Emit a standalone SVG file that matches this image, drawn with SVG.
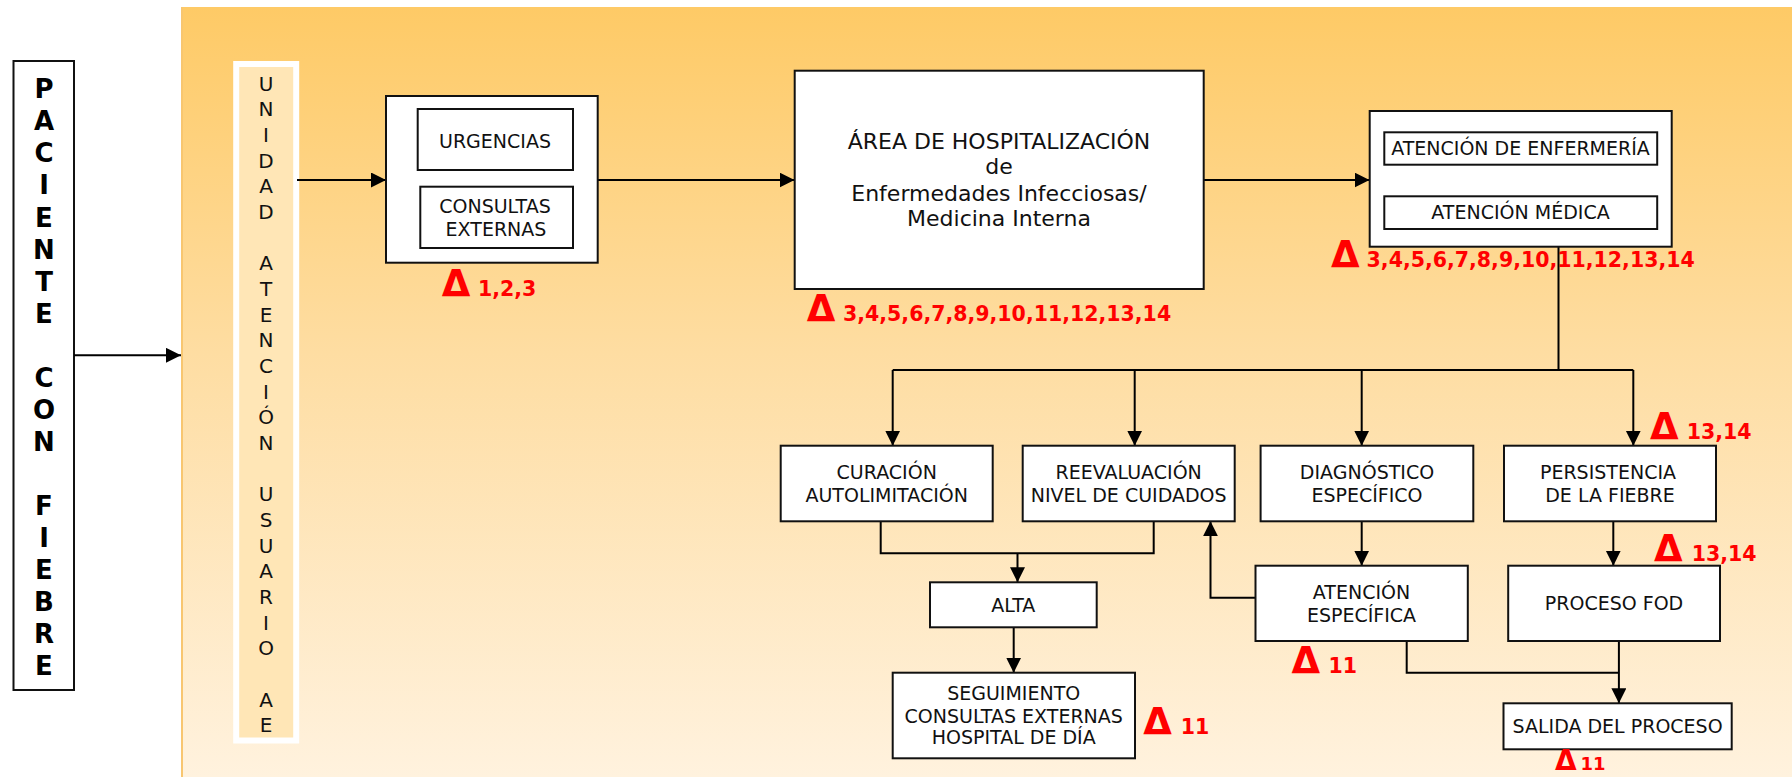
<svg xmlns="http://www.w3.org/2000/svg" width="1792" height="777" viewBox="0 0 1792 777">
<defs>
<linearGradient id="bg" x1="0" y1="0" x2="0" y2="1">
<stop offset="0" stop-color="#FECA66"/>
<stop offset="0.45" stop-color="#FEDDA2"/>
<stop offset="1" stop-color="#FFF2DE"/>
</linearGradient>
<marker id="ah" markerUnits="userSpaceOnUse" markerWidth="16" markerHeight="16" refX="15" refY="7.5" orient="auto">
<path d="M0,0 L15,7.5 L0,15 z" fill="#000"/>
</marker>
<style>
.box{fill:#fff;stroke:#111;stroke-width:2}
.t{font-family:"DejaVu Sans","Liberation Sans",sans-serif;font-size:19px;fill:#111;text-anchor:middle}
.big{font-size:22px}
.v{font-family:"DejaVu Sans","Liberation Sans",sans-serif;font-size:20px;fill:#111;text-anchor:middle}
.vb{font-family:"DejaVu Sans","Liberation Sans",sans-serif;font-size:26px;font-weight:bold;fill:#000;text-anchor:middle}
.dl{font-family:"DejaVu Sans","Liberation Sans",sans-serif;font-size:37px;font-weight:bold;fill:#FF0000}
.dn{font-family:"DejaVu Sans","Liberation Sans",sans-serif;font-size:20.5px;font-weight:bold;fill:#FF0000}
.c{fill:none;stroke:#000;stroke-width:2}
.ca{fill:none;stroke:#000;stroke-width:2;marker-end:url(#ah)}
</style>
</defs>
<rect x="181" y="7" width="1611" height="770" fill="url(#bg)"/>
<line x1="182" y1="7" x2="182" y2="777" stroke="#F8C670" stroke-width="2"/>

<g id="paciente">
<rect x="13.5" y="61" width="60.5" height="629" fill="#fff" stroke="#111" stroke-width="2"/>
<text class="vb"><tspan x="44" y="98">P</tspan><tspan x="44" y="130">A</tspan><tspan x="44" y="162">C</tspan><tspan x="44" y="194">I</tspan><tspan x="44" y="226.5">E</tspan><tspan x="44" y="258.5">N</tspan><tspan x="44" y="290.5">T</tspan><tspan x="44" y="322.5">E</tspan><tspan x="44" y="386.5">C</tspan><tspan x="44" y="418.5">O</tspan><tspan x="44" y="450.5">N</tspan><tspan x="44" y="514.5">F</tspan><tspan x="44" y="546.5">I</tspan><tspan x="44" y="578.5">E</tspan><tspan x="44" y="610.5">B</tspan><tspan x="44" y="642.5">R</tspan><tspan x="44" y="675">E</tspan></text>
</g>

<g id="unidad">
<rect x="236.2" y="64" width="60" height="676.5" fill="#FFE6B6" stroke="#fff" stroke-width="6"/>
<text class="v"><tspan x="266" y="90.7">U</tspan><tspan x="266" y="116.4">N</tspan><tspan x="266" y="142">I</tspan><tspan x="266" y="167.7">D</tspan><tspan x="266" y="193.4">A</tspan><tspan x="266" y="219">D</tspan><tspan x="266" y="270.4">A</tspan><tspan x="266" y="296">T</tspan><tspan x="266" y="321.7">E</tspan><tspan x="266" y="347.4">N</tspan><tspan x="266" y="373">C</tspan><tspan x="266" y="398.7">I</tspan><tspan x="266" y="424.4">Ó</tspan><tspan x="266" y="450">N</tspan><tspan x="266" y="501.4">U</tspan><tspan x="266" y="527">S</tspan><tspan x="266" y="552.7">U</tspan><tspan x="266" y="578.4">A</tspan><tspan x="266" y="604">R</tspan><tspan x="266" y="629.7">I</tspan><tspan x="266" y="655.4">O</tspan><tspan x="266" y="706.7">A</tspan><tspan x="266" y="732.4">E</tspan></text>
</g>

<g id="connectors">
<path class="ca" d="M74,355.3 H181"/>
<path class="ca" d="M297,180 H386"/>
<path class="ca" d="M598,180 H794.5"/>
<path class="ca" d="M1204,180 H1369.5"/>
<path class="c" d="M1558.5,247 V370"/>
<path class="c" d="M892.7,370 H1633.3"/>
<path class="ca" d="M892.7,370 V445.7"/>
<path class="ca" d="M1134.7,370 V445.7"/>
<path class="ca" d="M1361.7,370 V445.7"/>
<path class="ca" d="M1633.3,370 V445.7"/>
<path class="c" d="M880.7,521.3 V553.3 H1153.7 V521.3"/>
<path class="ca" d="M1017.5,553.3 V582.3"/>
<path class="ca" d="M1013.7,627.3 V672.7"/>
<path class="ca" d="M1361.7,521.3 V565.7"/>
<path class="ca" d="M1613.3,521.3 V565.7"/>
<path class="ca" d="M1255.5,597.7 H1210.5 V521.3"/>
<path class="c" d="M1406.7,641 V672.7 H1618.9"/>
<path class="ca" d="M1618.9,641 V703.3"/>
</g>

<g id="entrada">
<rect class="box" x="386" y="96" width="211.7" height="166.7"/>
<rect class="box" x="417.7" y="109" width="155.3" height="61"/>
<text class="t" x="495" y="147.7">URGENCIAS</text>
<rect class="box" x="420.3" y="186.7" width="152.7" height="61.3"/>
<text class="t" x="495" y="213.3">CONSULTAS</text>
<text class="t" x="496" y="236">EXTERNAS</text>
<text class="dl" x="441.7" y="296">Δ</text>
<text class="dn" x="478" y="296">1,2,3</text>
</g>

<g id="hospitalizacion">
<rect class="box" x="794.7" y="70.7" width="409" height="218.3"/>
<text class="t big" x="999" y="149.3">ÁREA DE HOSPITALIZACIÓN</text>
<text class="t big" x="999" y="174.3">de</text>
<text class="t big" x="999" y="200.7">Enfermedades Infecciosas/</text>
<text class="t big" x="999" y="226">Medicina Interna</text>
<text class="dl" x="806.7" y="320.7">Δ</text>
<text class="dn" x="843" y="320.7">3,4,5,6,7,8,9,10,11,12,13,14</text>
</g>

<g id="atencion">
<rect class="box" x="1369.7" y="111" width="302" height="135.7"/>
<rect class="box" x="1384.3" y="132.3" width="272.9" height="32.4"/>
<text class="t" x="1520.5" y="155.3">ATENCIÓN DE ENFERMERÍA</text>
<rect class="box" x="1384.3" y="196.3" width="272.9" height="32.7"/>
<text class="t" x="1520.5" y="219.3">ATENCIÓN MÉDICA</text>
<text class="dl" x="1331" y="267.3">Δ</text>
<text class="dn" x="1366.6" y="267.3">3,4,5,6,7,8,9,10,11,12,13,14</text>
</g>

<g id="curacion">
<rect class="box" x="780.7" y="445.7" width="212" height="75.6"/>
<text class="t" x="886.7" y="479">CURACIÓN</text>
<text class="t" x="886.7" y="501.7">AUTOLIMITACIÓN</text>
</g>

<g id="reevaluacion">
<rect class="box" x="1022.7" y="445.7" width="212" height="75.6"/>
<text class="t" x="1128.7" y="479">REEVALUACIÓN</text>
<text class="t" x="1128.7" y="501.7">NIVEL DE CUIDADOS</text>
</g>

<g id="diagnostico">
<rect class="box" x="1260.6" y="445.7" width="212.7" height="75.6"/>
<text class="t" x="1367" y="479">DIAGNÓSTICO</text>
<text class="t" x="1367" y="501.7">ESPECÍFICO</text>
</g>

<g id="persistencia">
<rect class="box" x="1504" y="445.7" width="212" height="75.6"/>
<text class="t" x="1608" y="479">PERSISTENCIA</text>
<text class="t" x="1610" y="501.7">DE LA FIEBRE</text>
<text class="dl" x="1650" y="439.3">Δ</text>
<text class="dn" x="1686.7" y="439.3">13,14</text>
</g>

<g id="alta">
<rect class="box" x="930" y="582.3" width="166.7" height="45"/>
<text class="t" x="1013.3" y="612">ALTA</text>
</g>

<g id="seguimiento">
<rect class="box" x="892.7" y="672.7" width="242.3" height="85.6"/>
<text class="t" x="1013.7" y="700">SEGUIMIENTO</text>
<text class="t" x="1013.7" y="722.7">CONSULTAS EXTERNAS</text>
<text class="t" x="1013.7" y="744.3">HOSPITAL DE DÍA</text>
<text class="dl" x="1143.3" y="734.3">Δ</text>
<text class="dn" x="1180.7" y="734.3">11</text>
</g>

<g id="atencion-especifica">
<rect class="box" x="1255.5" y="565.7" width="212.3" height="75.3"/>
<text class="t" x="1361.5" y="599">ATENCIÓN</text>
<text class="t" x="1361.5" y="621.7">ESPECÍFICA</text>
<text class="dl" x="1291.6" y="672.7">Δ</text>
<text class="dn" x="1328.6" y="672.7">11</text>
</g>

<g id="proceso-fod">
<rect class="box" x="1508.2" y="565.7" width="211.8" height="75.3"/>
<text class="t" x="1614" y="610">PROCESO FOD</text>
<text class="dl" x="1654" y="560.7">Δ</text>
<text class="dn" x="1691.7" y="560.7">13,14</text>
</g>

<g id="salida">
<rect class="box" x="1503.5" y="703.3" width="228.2" height="46"/>
<text class="t" x="1617.6" y="733.3">SALIDA DEL PROCESO</text>
<text class="dl" x="1555" y="770" style="font-size:28px">Δ</text>
<text class="dn" x="1580.5" y="770" style="font-size:18px">11</text>
</g>
</svg>
